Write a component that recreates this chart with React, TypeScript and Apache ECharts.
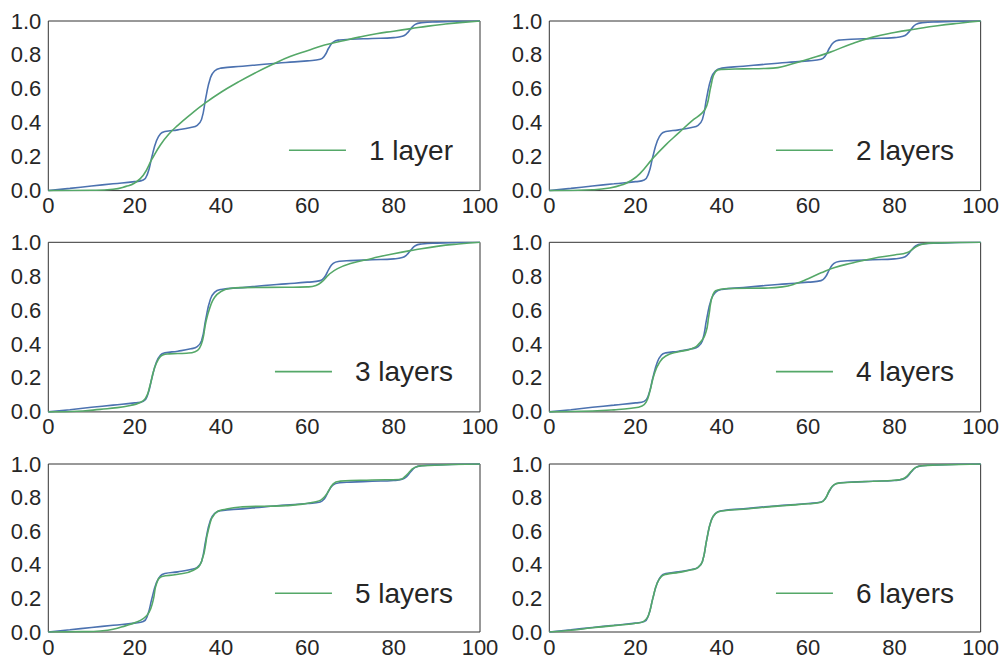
import React, { useEffect, useRef } from "react";
import * as echarts from "echarts";

// Target cumulative curve (x, F(x)), shared by every panel
const targetCurve: [number, number][] = [
  [0, 0], [5, 0.013], [10, 0.027], [15, 0.04], [20, 0.053], [22, 0.062], [23, 0.1],
  [24, 0.2], [25, 0.29], [26, 0.335], [27, 0.348], [30, 0.358], [33, 0.372],
  [34.5, 0.385], [35.5, 0.42], [36.5, 0.55], [37.5, 0.66], [38.5, 0.705], [40, 0.722],
  [45, 0.733], [50, 0.745], [55, 0.755], [60, 0.765], [63, 0.774], [64, 0.795],
  [65, 0.842], [66, 0.876], [67.5, 0.888], [70, 0.892], [75, 0.897], [80, 0.902],
  [82, 0.91], [83, 0.925], [84, 0.955], [85, 0.98], [86.5, 0.99], [90, 0.995], [100, 1.0],
];

// Network approximations with an increasing number of layers
const fit1Layer: [number, number][] = [
  [0, 0], [10, 0.002], [15, 0.008], [18, 0.025], [20, 0.045], [22, 0.09], [24, 0.185],
  [26, 0.27], [28, 0.335], [30, 0.385], [33, 0.45], [36, 0.51], [40, 0.58], [44, 0.64],
  [48, 0.695], [52, 0.745], [56, 0.79], [60, 0.825], [64, 0.858], [68, 0.882],
  [72, 0.905], [76, 0.925], [80, 0.94], [84, 0.955], [88, 0.97], [92, 0.982],
  [96, 0.992], [100, 1.0],
];
const fit2Layers: [number, number][] = [
  [0, 0], [10, 0.005], [14, 0.015], [17, 0.035], [19, 0.06], [21, 0.1], [24, 0.19],
  [27, 0.27], [30, 0.34], [33, 0.41], [35.5, 0.46], [36.5, 0.5], [37.5, 0.62],
  [38.5, 0.7], [40, 0.715], [45, 0.718], [50, 0.72], [53, 0.725], [56, 0.745],
  [60, 0.775], [65, 0.815], [70, 0.865], [75, 0.905], [80, 0.932], [85, 0.953],
  [90, 0.972], [95, 0.987], [100, 1.0],
];
const fit3Layers: [number, number][] = [
  [0, 0], [8, 0.005], [12, 0.015], [16, 0.025], [19, 0.038], [21, 0.052], [22.5, 0.08],
  [23.5, 0.15], [24.5, 0.25], [25.5, 0.31], [26.5, 0.335], [28, 0.342], [32, 0.346],
  [34, 0.355], [35, 0.375], [35.8, 0.43], [36.5, 0.53], [37.5, 0.62], [38.5, 0.675],
  [40, 0.71], [42, 0.728], [45, 0.733], [55, 0.735], [60, 0.737], [62, 0.745],
  [63.5, 0.77], [65, 0.81], [67, 0.845], [70, 0.875], [75, 0.905], [80, 0.933],
  [85, 0.956], [90, 0.976], [95, 0.99], [100, 1.0],
];
const fit4Layers: [number, number][] = [
  [0, 0], [10, 0.005], [15, 0.012], [19, 0.022], [21.5, 0.035], [22.5, 0.06],
  [23.3, 0.12], [24.3, 0.22], [25.5, 0.29], [27, 0.33], [30, 0.355], [33, 0.372],
  [35, 0.41], [36.3, 0.47], [37, 0.57], [38, 0.695], [39.5, 0.722], [42, 0.728],
  [50, 0.73], [54, 0.737], [57, 0.755], [60, 0.785], [63, 0.82], [66, 0.85],
  [70, 0.877], [75, 0.905], [80, 0.925], [83, 0.94], [84.5, 0.965], [86, 0.985],
  [88, 0.995], [100, 1.0],
];
const fit5Layers: [number, number][] = [
  [0, 0], [8, 0.002], [12, 0.006], [15, 0.016], [18, 0.038], [20, 0.055], [22, 0.08],
  [23.3, 0.115], [24.3, 0.19], [25.1, 0.29], [26.3, 0.33], [29.7, 0.342], [33.6, 0.368],
  [35.5, 0.42], [37.1, 0.61], [38.6, 0.705], [41.3, 0.732], [45, 0.745], [55, 0.752],
  [62, 0.775], [64, 0.805], [66, 0.882], [67.6, 0.898], [75, 0.905], [81.5, 0.908],
  [82.8, 0.93], [84.9, 0.98], [86.9, 0.99], [100, 1.0],
];
const fit6Layers: [number, number][] = [
  [0, 0], [5, 0.01], [10, 0.025], [15, 0.038], [20, 0.052], [22, 0.065], [23, 0.1],
  [24, 0.2], [25, 0.29], [26, 0.33], [27, 0.343], [30, 0.355], [33, 0.37], [34.5, 0.385],
  [35.5, 0.42], [36.5, 0.55], [37.5, 0.66], [38.5, 0.705], [40, 0.72], [45, 0.731],
  [50, 0.743], [55, 0.753], [60, 0.763], [63, 0.772], [64, 0.795], [65, 0.845],
  [66, 0.876], [67.5, 0.887], [70, 0.891], [75, 0.897], [80, 0.903], [82, 0.912],
  [83, 0.93], [84, 0.958], [85, 0.98], [86.5, 0.99], [90, 0.994], [100, 1.0],
];

const fits = [fit1Layer, fit2Layers, fit3Layers, fit4Layers, fit5Layers, fit6Layers];
const fitLabels = ["1 layer", "2 layers", "3 layers", "4 layers", "5 layers", "6 layers"];

const xTicks = { min: 0, max: 100, interval: 20 };
const yTicks = { min: 0, max: 1, interval: 0.2 };

const BLUE = "#4C72B0";
const GREEN = "#55A868";
const TEXT = "#262626";
const FONT = "Liberation Sans, Arial, sans-serif";

const W = 1002;
const H = 658;
const colLeft = [48.3, 549.3];
const gridW = 431.7;
const rowTop = [21, 242.3, 464];
const gridH = 169.6;

export default function App() {
  const ref = useRef<HTMLDivElement>(null);

  useEffect(() => {
    if (!ref.current) return;
    const chart = echarts.init(ref.current, null, { renderer: "svg" });

    const grids: any[] = [];
    const xAxes: any[] = [];
    const yAxes: any[] = [];
    const series: any[] = [];
    const graphics: any[] = [];

    fits.forEach((fit, i) => {
      const col = i % 2;
      const row = Math.floor(i / 2);
      const left = colLeft[col];
      const top = rowTop[row];
      grids.push({
        left,
        top,
        width: gridW,
        height: gridH,
        show: true,
        borderColor: "#333333",
        borderWidth: 1,
        backgroundColor: "#ffffff",
      });
      xAxes.push({
        type: "value",
        gridIndex: i,
        ...xTicks,
        axisLine: { show: false },
        axisTick: { show: false },
        splitLine: { show: false },
        axisLabel: { fontSize: 22, color: TEXT, fontFamily: FONT, margin: 4 },
      });
      yAxes.push({
        type: "value",
        gridIndex: i,
        ...yTicks,
        axisLine: { show: false },
        axisTick: { show: false },
        splitLine: { show: false },
        axisLabel: {
          fontSize: 22,
          color: TEXT,
          fontFamily: FONT,
          margin: 7,
          formatter: (v: number) => v.toFixed(1),
        },
      });
      series.push({
        type: "line",
        name: "target " + (i + 1),
        xAxisIndex: i,
        yAxisIndex: i,
        data: targetCurve,
        showSymbol: false,
        symbol: "none",
        smooth: 0.5,
        lineStyle: { color: BLUE, width: 1.6 },
        z: 2,
      });
      series.push({
        type: "line",
        name: fitLabels[i],
        xAxisIndex: i,
        yAxisIndex: i,
        data: fit,
        showSymbol: false,
        symbol: "none",
        smooth: 0.5,
        lineStyle: { color: GREEN, width: 1.6 },
        z: 3,
      });

      // legend entry: short green line followed by the label
      const gridRight = left + gridW;
      graphics.push({
        type: "group",
        right: W - (gridRight - 27),
        y: top + 129.3,
        children: [
          {
            type: "line",
            shape: { x1: 0, y1: 0, x2: 57, y2: 0 },
            style: { stroke: GREEN, lineWidth: 1.6 },
          },
          {
            type: "text",
            x: 80,
            y: 0,
            style: {
              text: fitLabels[i],
              fontSize: 28,
              fontFamily: FONT,
              fill: TEXT,
              verticalAlign: "middle",
            },
          },
        ],
      });
    });

    chart.setOption({
      animation: false,
      backgroundColor: "#ffffff",
      grid: grids,
      xAxis: xAxes,
      yAxis: yAxes,
      series,
      graphic: graphics,
    });

    return () => chart.dispose();
  }, []);

  return (
    <div
      ref={ref}
      style={{ position: "absolute", left: 0, top: 0, width: W, height: H }}
    />
  );
}
